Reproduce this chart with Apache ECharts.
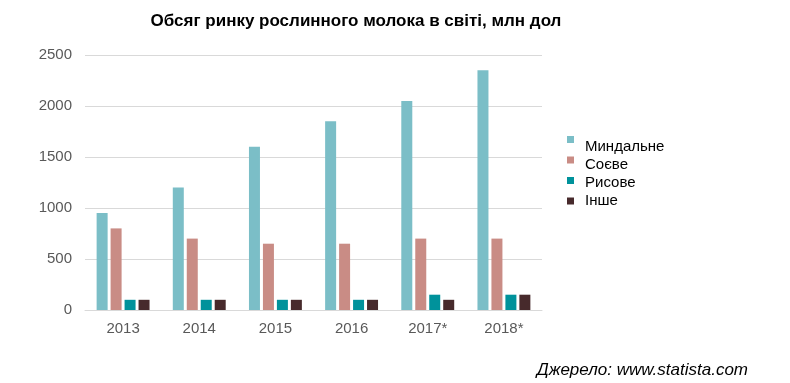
<!DOCTYPE html>
<html><head><meta charset="utf-8">
<script src="https://cdn.jsdelivr.net/npm/echarts@6/dist/echarts.min.js"></script>
<style>html,body{margin:0;padding:0;background:#fff}#c{width:790px;height:383px}</style>
</head><body><div id="c"></div>
<script>
const categories = ['2013','2014','2015','2016','2017*','2018*'];
const almond = [950,1200,1600,1850,2050,2350];
const soy = [800,700,650,650,700,700];
const rice = [100,100,100,100,150,150];
const other = [100,100,100,100,100,150];
const seriesNames = ['Миндальне','Соєве','Рисове','Інше'];
const colors = ['#7bbec7','#c98c85','#00929b','#472a2c'];
const FONT = '"Liberation Sans", Arial, sans-serif';
const chart = echarts.init(document.getElementById('c'));
const data = [almond, soy, rice, other];
chart.setOption({
  animation:false,
  textStyle:{fontFamily:FONT},
  title:{text:'Обсяг ринку рослинного молока в світі, млн дол',left:351,textAlign:'center',top:8,
    textStyle:{fontFamily:FONT,fontSize:17,fontWeight:'bold',color:'#000'}},
  graphic:[{type:'text',right:42,top:362,style:{text:'Джерело: www.statista.com',font:'italic 17px "Liberation Sans", Arial, sans-serif',fill:'#000'}}],
  legend:[
    {orient:'vertical',left:562,top:131,itemWidth:7,itemHeight:7,itemGap:13.5,icon:'rect',
     data:seriesNames,formatter:()=>'',textStyle:{fontSize:1}},
    {orient:'vertical',left:575,top:133,itemWidth:0,itemHeight:0,itemGap:0,icon:'none',
     data:seriesNames,textStyle:{fontFamily:FONT,fontSize:15,lineHeight:18,color:'#000'}}
  ],
  grid:{left:85,right:248,top:55,bottom:73},
  xAxis:{type:'category',data:categories,axisTick:{show:false},
    axisLine:{lineStyle:{color:'#d9d9d9'}},
    axisLabel:{fontFamily:FONT,fontSize:15,color:'#595959',margin:11}},
  yAxis:{type:'value',min:0,max:2500,interval:500,axisLine:{show:false},axisTick:{show:false},
    splitLine:{lineStyle:{color:'#d9d9d9'}},
    axisLabel:{fontFamily:FONT,fontSize:15,color:'#595959',margin:13,formatter:v=>String(v)}},
  series:data.map((d,i)=>({name:seriesNames[i],type:'bar',data:d,barWidth:11,barGap:'27%',
    itemStyle:{color:colors[i]}}))
});
</script></body></html>
